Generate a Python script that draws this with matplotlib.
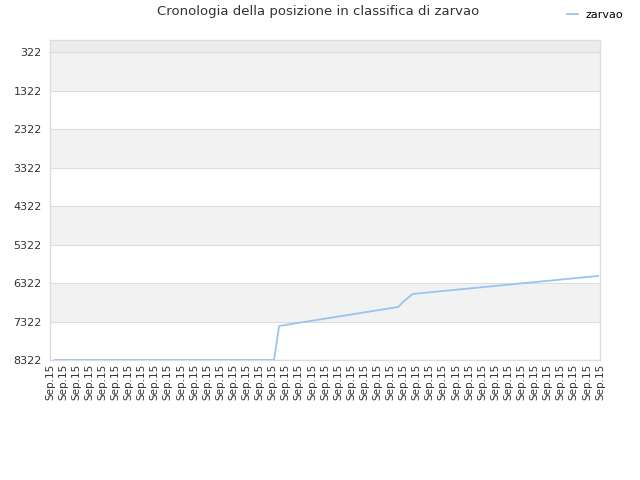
import matplotlib
matplotlib.use("Agg")
import matplotlib.pyplot as plt

# dati (x in unita' di tick, rank in classifica)
tick_labels = ["Sep.15"] * 43
pos_x = [0.38, 5.0, 10.0, 15.0, 17.1, 17.5, 20.0, 23.0, 26.6, 27.0, 27.7, 31.0, 35.0, 38.0, 41.85]
rank = [8322, 8322, 8322, 8322, 8322, 7438, 7302, 7140, 6944, 6800, 6606, 6497, 6365, 6266, 6138]
yticks = [322, 1322, 2322, 3322, 4322, 5322, 6322, 7322, 8322]

fig = plt.figure(figsize=(6.4, 4.8), dpi=100)
ax = fig.add_axes([50/640, 120/480, 550/640, 320/480])

ax.set_xlim(0, 42)
ax.set_ylim(8322, 10)

# bande alternate
ax.axhspan(10, 322, color="#ececec", lw=0)
for i, t in enumerate(yticks[:-1]):
    if i % 2 == 0:
        ax.axhspan(t, t + 1000, color="#f2f2f2", lw=0)
for t in yticks:
    ax.axhline(t, color="#dddddd", lw=0.8, zorder=1)

ax.plot(pos_x, rank, color="#99c4f0", lw=1.3, zorder=3, label="zarvao")

ax.set_yticks(yticks)
ax.set_yticklabels([str(t) for t in yticks], fontsize=8, color="#333333")
ax.set_xticks(range(len(tick_labels)))
ax.set_xticklabels(tick_labels, rotation=90, fontsize=7.5, color="#333333")
ax.tick_params(length=0, pad=6)
ax.tick_params(axis="x", pad=3)

for s in ax.spines.values():
    s.set_color("#dddddd")
    s.set_linewidth(1)

fig.text(0.497, 0.975, "Cronologia della posizione in classifica di zarvao",
         ha="center", va="center", fontsize=9.5, color="#333333")
fig.legend(loc="upper right", bbox_to_anchor=(0.99, 1.0), frameon=False,
           fontsize=8, handlelength=1.0, handletextpad=0.7)

fig.savefig("out.png", dpi=100, facecolor="white")
